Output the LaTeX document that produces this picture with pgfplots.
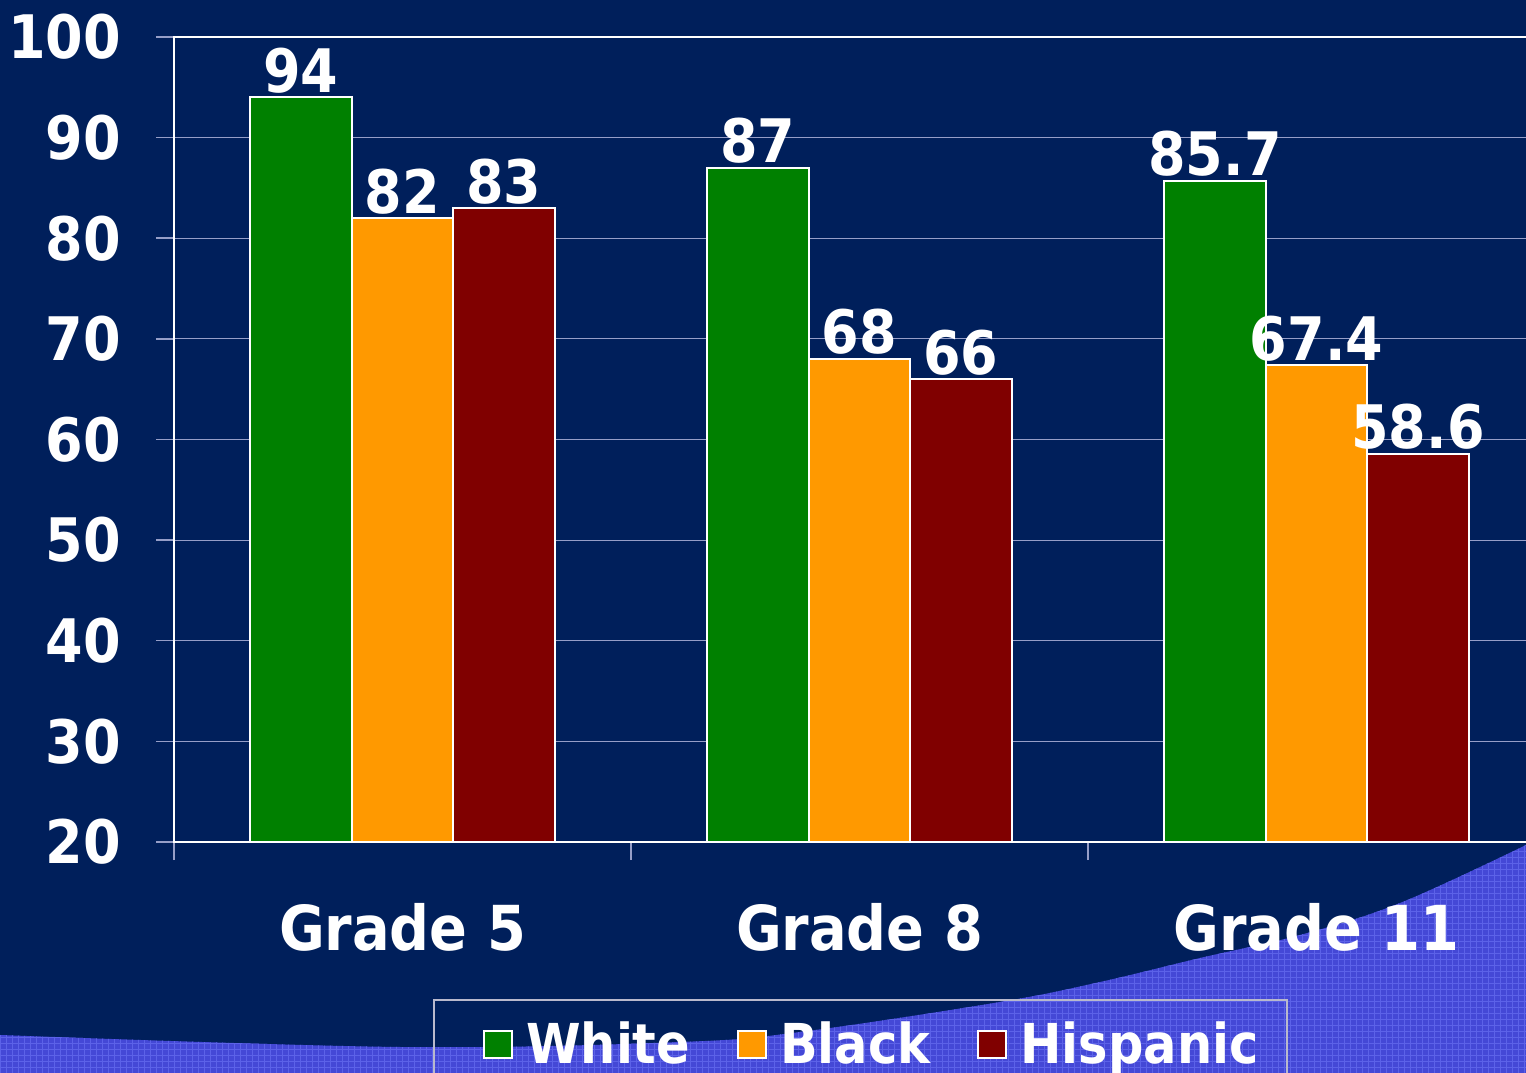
\documentclass[border=0pt]{standalone}
\usepackage{pgfplots}
\pgfplotsset{compat=1.18}
\usepackage{fontspec}
\setmainfont{DejaVu Sans Condensed}
\definecolor{bg}{RGB}{0,31,91}
\definecolor{swoosh}{RGB}{68,72,214}
\definecolor{swooshgrid}{RGB}{92,98,232}
\definecolor{gridc}{RGB}{150,158,200}
\definecolor{legc}{RGB}{185,185,205}
\definecolor{cgreen}{RGB}{0,128,0}
\definecolor{corange}{RGB}{255,153,0}
\definecolor{cred}{RGB}{128,0,0}
\newcommand\bigfont{\bfseries\fontsize{60}{60}\selectfont}
\newcommand\catfont{\bfseries\fontsize{62}{62}\selectfont}
\newcommand\legfont{\bfseries\fontsize{55}{55}\selectfont}
\begin{document}
\begin{tikzpicture}[x=1pt,y=1pt]
\path[use as bounding box] (0,0) rectangle (1526,1073);
\clip (0,0) rectangle (1526,1073);
\fill[bg] (0,0) rectangle (1526,1073);
\def\swooshpath{(0,-5) -- plot[smooth, tension=0.6] coordinates {(0,38) (400,26) (680,31) (800,41) (1000,71) (1100,91) (1200,115) (1300,138) (1400,170) (1526,228)} -- (1530,228) -- (1530,-5) -- cycle}
\fill[swoosh] \swooshpath;
\begin{scope}
\clip \swooshpath;
\draw[swooshgrid, line width=0.5pt, step=6] (0,0) grid (1530,240);
\end{scope}
\draw[legc, line width=1.5pt] (434,-10) -- (434,73) -- (1287,73) -- (1287,-10);
\begin{axis}[
  at={(174pt,231pt)}, anchor=south west,
  scale only axis, width=1371pt, height=805pt,
  xmin=-0.5, xmax=2.5, ymin=20, ymax=100,
  ybar=0pt, bar width=101.5pt,
  axis line style={white, line width=2pt},
  xtick={-0.5,0.5,1.5,2.5},
  x tick label as interval,
  xticklabels={Grade 5,Grade 8,Grade 11},
  ytick={20,30,...,100},
  tick align=outside, xtick pos=bottom, ytick pos=left,
  major tick length=18pt,
  tick style={gridc, line width=1.5pt},
  ymajorgrids, grid style={gridc, line width=1.2pt},
  /pgf/number format/assume math mode=true,
  yticklabel style={font=\bigfont, text=white, anchor=east, inner sep=0pt, xshift=-35pt},
  xticklabel style={font=\catfont, text=white, anchor=base, inner sep=0pt, yshift=-90pt},
  nodes near coords,
  every node near coord/.append style={font=\bigfont, text=white, anchor=base, inner sep=0pt, yshift=5pt},
  legend columns=3,
  legend style={at={(0.18964,-0.19627)}, anchor=north west, fill=none, draw=none,
    font=\legfont, text=white, inner xsep=49pt, inner ysep=22pt,
    nodes={inner sep=0pt, anchor=base west},
    /tikz/every odd column/.append style={column sep=13pt},
    /tikz/every even column/.append style={column sep=47pt}},
  legend image code/.code={\draw[#1, draw=white, line width=2pt] (0pt,6pt) rectangle (28pt,33pt);},
]
\addplot[fill=cgreen, draw=white, line width=2pt] coordinates {(0,94) (1,87) (2,85.7)};
\addplot[fill=corange, draw=white, line width=2pt] coordinates {(0,82) (1,68) (2,67.4)};
\addplot[fill=cred, draw=white, line width=2pt] coordinates {(0,83) (1,66) (2,58.6)};
\legend{White,Black,Hispanic}
\end{axis}
\end{tikzpicture}
\end{document}
